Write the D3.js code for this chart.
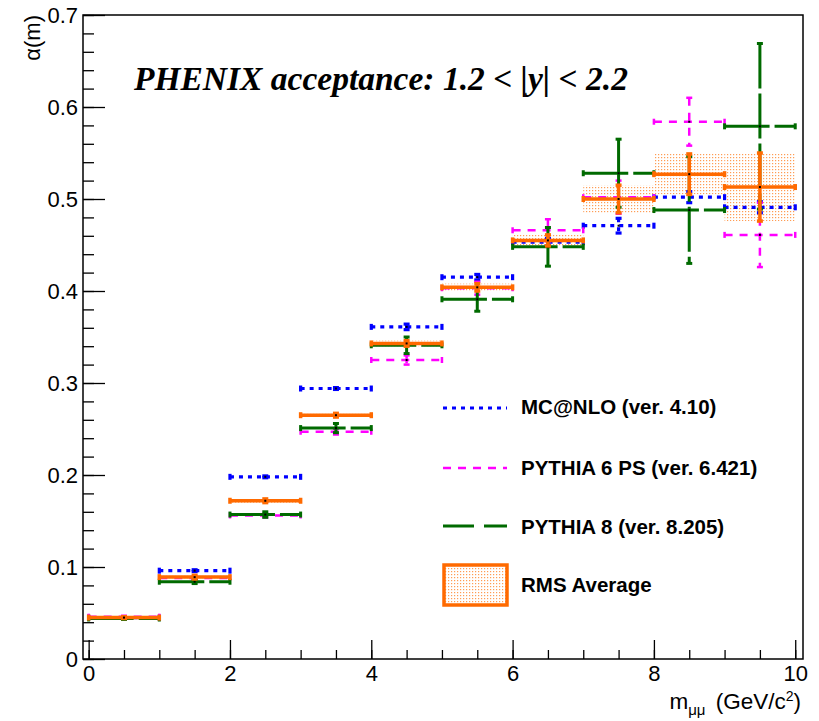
<!DOCTYPE html>
<html>
<head>
<meta charset="utf-8">
<script src="https://cdn.jsdelivr.net/npm/d3@7"></script>
<style>
body { margin: 0; background: #fff; }
svg { font-family: "Liberation Sans", Arial, sans-serif; }
</style>
</head>
<body>
<div id="chart"></div>
<script>
// bins in m_mumu (GeV/c^2)
const binLo = [0, 1, 2, 3, 4, 5, 6, 7, 8, 9];
const binHi = [1, 2, 3, 4, 5, 6, 7, 8, 9, 10];

const mcnlo = [0.045, 0.096, 0.198, 0.294, 0.361, 0.415, 0.453, 0.471, 0.502, 0.491];
const mcnloErr = [0.001, 0.001, 0.001, 0.001, 0.003, 0.003, 0.004, 0.008, 0.006, 0.006];
const py6 = [0.046, 0.088, 0.156, 0.247, 0.325, 0.403, 0.466, 0.502, 0.584, 0.461];
const py6Err = [0.001, 0.002, 0.002, 0.003, 0.005, 0.007, 0.012, 0.018, 0.026, 0.035];
const py8 = [0.044, 0.084, 0.157, 0.251, 0.341, 0.391, 0.448, 0.528, 0.488, 0.579];
const py8Err = [0.001, 0.002, 0.003, 0.005, 0.009, 0.013, 0.021, 0.037, 0.058, 0.09];
const rms = [0.045, 0.089, 0.172, 0.265, 0.343, 0.404, 0.455, 0.500, 0.527, 0.513];
const rmsErr = [0.001, 0.002, 0.002, 0.002, 0.003, 0.004, 0.006, 0.015, 0.022, 0.037];

const xTicks = [0, 2, 4, 6, 8, 10];
const yTicks = [0, 0.1, 0.2, 0.3, 0.4, 0.5, 0.6, 0.7];
const legendLabels = ['MC@NLO (ver. 4.10)', 'PYTHIA 6 PS (ver. 6.421)', 'PYTHIA 8 (ver. 8.205)', 'RMS Average'];

const width = 819, height = 721;
const frame = { left: 83, right: 803, top: 15, bottom: 659 };

const svg = d3.select('#chart').append('svg')
	.attr('width', width)
	.attr('height', height);

const defs = svg.append('defs');
const pat = defs.append('pattern')
	.attr('id', 'dots')
	.attr('width', 3)
	.attr('height', 3)
	.attr('patternUnits', 'userSpaceOnUse');
pat.append('rect').attr('width', 3).attr('height', 3).attr('fill', '#fff');
pat.append('rect').attr('x', 1).attr('y', 1).attr('width', 1.2).attr('height', 1.2)
	.attr('fill', '#ff7a1a').attr('opacity', 0.75);

const x = d3.scaleLinear().domain([-0.08, 10.11]).range([frame.left, frame.right]);
const y = d3.scaleLinear().domain([0, 0.7]).range([frame.bottom, frame.top]);

// frame
svg.append('rect')
	.attr('x', frame.left).attr('y', frame.top)
	.attr('width', frame.right - frame.left)
	.attr('height', frame.bottom - frame.top)
	.attr('fill', 'none').attr('stroke', '#000').attr('stroke-width', 1.5);

// axes (ticks pointing inside the frame, like ROOT)
svg.append('g')
	.attr('transform', 'translate(0,' + frame.bottom + ')')
	.call(d3.axisBottom(x).tickValues(xTicks).tickSize(-19).tickSizeOuter(0).tickPadding(6).tickFormat(d3.format('d')));
svg.append('g')
	.attr('transform', 'translate(0,' + frame.bottom + ')')
	.call(d3.axisBottom(x).tickValues(d3.range(0, 10.01, 0.5)).tickSize(-9).tickSizeOuter(0).tickFormat(''));

svg.append('g')
	.attr('transform', 'translate(' + frame.left + ',0)')
	.call(d3.axisLeft(y).tickValues(yTicks).tickSize(-22).tickSizeOuter(0).tickPadding(5)
		.tickFormat(d => d === 0 ? '0' : d3.format('.1f')(d)));
svg.append('g')
	.attr('transform', 'translate(' + frame.left + ',0)')
	.call(d3.axisLeft(y).tickValues(d3.range(0, 0.7001, 0.02)).tickSize(-11).tickSizeOuter(0).tickFormat(''));

svg.selectAll('.domain').remove();
svg.selectAll('.tick line').attr('stroke', '#000').attr('stroke-width', 1.3);
svg.selectAll('.tick text').attr('font-size', 22).attr('fill', '#000')
	.attr('font-family', '"Liberation Sans", Arial, sans-serif');

// axis titles
svg.append('text')
	.attr('transform', 'translate(40,' + frame.top + ') rotate(-90)')
	.attr('text-anchor', 'end')
	.attr('font-size', 22)
	.text('α(m)');

const xt = svg.append('text')
	.attr('x', 801).attr('y', 709)
	.attr('text-anchor', 'end')
	.attr('font-size', 22.5);
xt.append('tspan').text('m');
xt.append('tspan').attr('font-size', 15).attr('dy', 6).text('μμ');
xt.append('tspan').attr('dy', -6).attr('dx', 4).text(' (GeV/c');
xt.append('tspan').attr('font-size', 14).attr('dy', -8).text('2');
xt.append('tspan').attr('dy', 8).text(')');

// title
svg.append('text')
	.attr('x', 134).attr('y', 90)
	.attr('font-family', '"Liberation Serif", "Times New Roman", serif')
	.attr('font-weight', 'bold')
	.attr('font-style', 'italic')
	.attr('font-size', 33.5)
	.text('PHENIX acceptance: 1.2 < |y| < 2.2');

const idx = d3.range(binLo.length);

// RMS spread boxes
svg.append('g').selectAll('rect')
	.data(idx)
	.enter()
	.append('rect')
	.attr('x', i => x(binLo[i]))
	.attr('width', i => x(binHi[i]) - x(binLo[i]))
	.attr('y', i => y(rms[i] + rmsErr[i]))
	.attr('height', i => y(rms[i] - rmsErr[i]) - y(rms[i] + rmsErr[i]))
	.attr('fill', 'url(#dots)');

const drawSeries = (vals, errs, color, dash, sw) => {
	const g = svg.append('g')
		.attr('stroke', color)
		.attr('stroke-width', sw)
		.attr('fill', 'none');
	// horizontal bars
	g.selectAll('line.h')
		.data(idx)
		.enter()
		.append('line')
		.attr('class', 'h')
		.attr('x1', i => x(binLo[i]))
		.attr('x2', i => x(binHi[i]))
		.attr('y1', i => y(vals[i]))
		.attr('y2', i => y(vals[i]))
		.attr('stroke-dasharray', dash);
	// vertical error bars
	g.selectAll('line.v')
		.data(idx)
		.enter()
		.append('line')
		.attr('class', 'v')
		.attr('x1', i => x((binLo[i] + binHi[i]) / 2))
		.attr('x2', i => x((binLo[i] + binHi[i]) / 2))
		.attr('y1', i => y(vals[i] + errs[i]))
		.attr('y2', i => y(vals[i] - errs[i]))
		.attr('stroke-dasharray', dash);
	// end caps
	idx.forEach(i => {
		const xc = x((binLo[i] + binHi[i]) / 2);
		const yv = y(vals[i]);
		[x(binLo[i]), x(binHi[i])].forEach(xe => {
			g.append('line').attr('x1', xe).attr('x2', xe).attr('y1', yv - 3).attr('y2', yv + 3);
		});
		[y(vals[i] + errs[i]), y(vals[i] - errs[i])].forEach(ye => {
			g.append('line').attr('x1', xc - 3).attr('x2', xc + 3).attr('y1', ye).attr('y2', ye);
		});
	});
	// tiny marker
	g.selectAll('rect')
		.data(idx)
		.enter()
		.append('rect')
		.attr('x', i => x((binLo[i] + binHi[i]) / 2) - 1)
		.attr('y', i => y(vals[i]) - 1)
		.attr('width', 2).attr('height', 2)
		.attr('fill', '#000').attr('stroke', 'none');
};

const colors = ['#0000ff', '#ff00ff', '#006a00', '#ff6a00'];
const dashes = ['4,5', '8,7', '45,5', null];

drawSeries(mcnlo, mcnloErr, colors[0], dashes[0], 3.2);
drawSeries(py6, py6Err, colors[1], dashes[1], 2.5);
drawSeries(py8, py8Err, colors[2], dashes[2], 3);
drawSeries(rms, rmsErr, colors[3], dashes[3], 3.5);

// legend
const legY = [408, 468, 526];
const legDash = ['4,5', '8,7', '31,10'];
const leg = svg.append('g');
legY.forEach((ly, i) => {
	leg.append('line')
		.attr('x1', 443).attr('x2', 507)
		.attr('y1', ly).attr('y2', ly)
		.attr('stroke', colors[i])
		.attr('stroke-width', i === 1 ? 2.5 : 3.2)
		.attr('stroke-dasharray', legDash[i]);
});
leg.append('rect')
	.attr('x', 444).attr('y', 565)
	.attr('width', 63).attr('height', 40)
	.attr('fill', 'url(#dots)')
	.attr('stroke', colors[3])
	.attr('stroke-width', 3.5);
const textY = [414, 475, 534, 592];
leg.selectAll('text')
	.data(legendLabels)
	.enter()
	.append('text')
	.attr('x', 521)
	.attr('y', (d, i) => textY[i])
	.attr('font-size', 20.5)
	.attr('font-weight', 'bold')
	.text(d => d);
</script>
</body>
</html>
